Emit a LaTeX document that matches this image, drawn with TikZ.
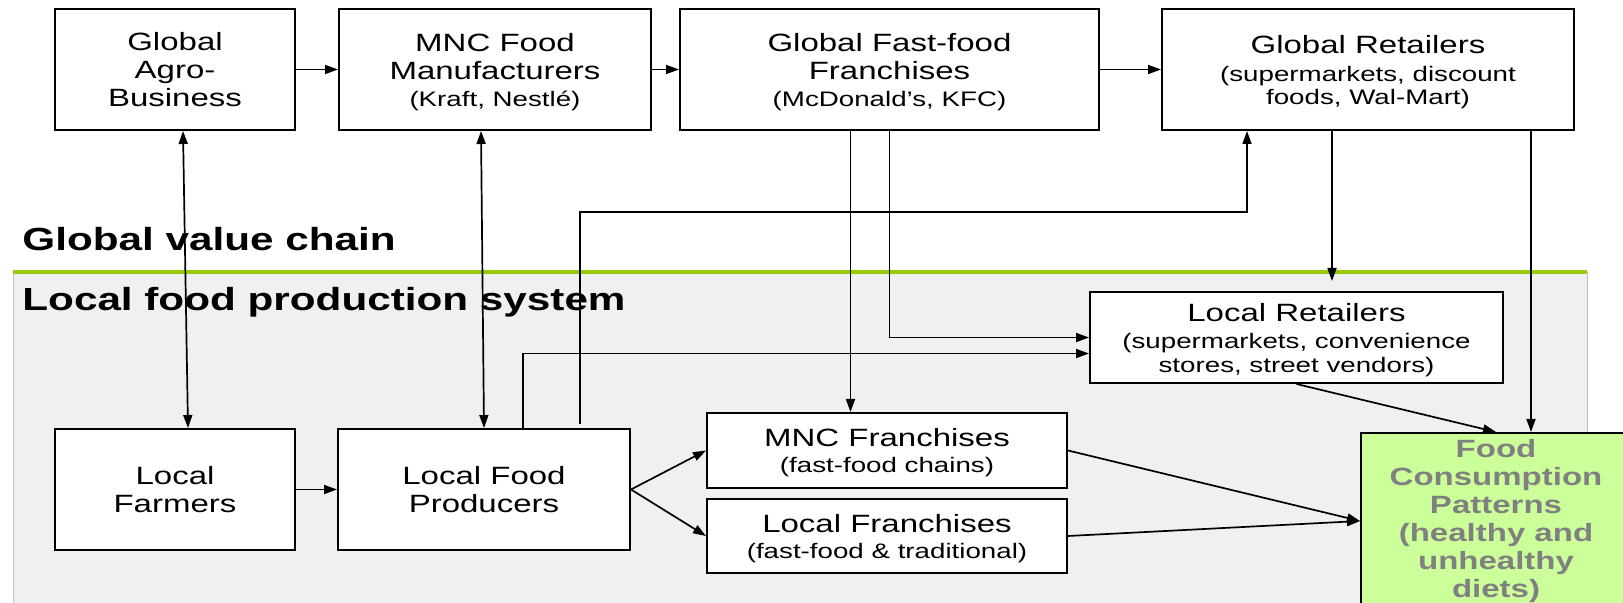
\documentclass[tikz,border=0pt]{standalone}
\usepackage{fontspec}
\setmainfont{Liberation Sans}[FakeStretch=1.32]
\usetikzlibrary{arrows.meta}
\definecolor{chaingreen}{HTML}{99CC00}
\definecolor{dietgreen}{HTML}{CCFF99}
\definecolor{dietgray}{HTML}{808080}
\definecolor{localgray}{HTML}{F0F0F0}
\newcommand{\subtxt}[1]{{\fontsize{10.5}{12}\selectfont #1}}
\tikzset{
	box/.style={draw, line width=1pt, fill=white, align=center, inner sep=0pt, font=\fontsize{12.5}{14}\selectfont},
	subbox/.style={box, text depth=-2pt},
	arr/.style={line width=0.85pt, -{Triangle[length=6.5pt,width=4.5pt]}},
	twoarr/.style={line width=0.85pt, {Triangle[length=6.5pt,width=4.5pt]}-{Triangle[length=6.5pt,width=4.5pt]}},
	heading/.style={anchor=base west, inner sep=0pt, font=\bfseries\fontsize{16}{19}\selectfont}
}
\begin{document}
\begin{tikzpicture}[x=0.5pt, y=-0.5pt]
			\useasboundingbox (0, 0) rectangle (1623, 603);
			\clip (0, 0) rectangle (1623, 603);
			
			\fill[localgray] (13, 272) rectangle (1587, 610);
			\draw[black!25] (13, 272) -- (13, 610);
			\draw[black!25] (1587, 272) -- (1587, 610);
			\draw[chaingreen, line width=2pt] (13, 272) -- (1587, 272);
			
			\node[heading] (gvc) at (22, 251) {Global value chain};
			\node[heading] (lfps) at (22, 311) {Local food production system};
			
			\node[box, minimum width=120pt, minimum height=60.5pt] (agro) at (175, 69.5) {Global\\Agro-\\Business};
			\node[subbox, minimum width=156pt, minimum height=60.5pt] (mncman) at (495, 69.5) {MNC Food\\Manufacturers\\[-0.5pt]\subtxt{(Kraft, Nestlé)}};
			\node[subbox, minimum width=209.5pt, minimum height=60.5pt] (fastfood) at (889.5, 69.5) {Global Fast-food\\Franchises\\[-0.5pt]\subtxt{(McDonald’s, KFC)}};
			\node[subbox, minimum width=206pt, minimum height=60.5pt] (globret) at (1368, 69.5) {Global Retailers\\[0pt]\subtxt{(supermarkets, discount}\\[-2.5pt]\subtxt{foods, Wal-Mart)}};
			
			\node[subbox, minimum width=206.5pt, minimum height=45.5pt] (locret) at (1296.5, 337.5) {Local Retailers\\[-0.5pt]\subtxt{(supermarkets, convenience}\\[-2pt]\subtxt{stores, street vendors)}};
			
			\node[box, text depth=-1pt, minimum width=120pt, minimum height=60.5pt] (farmers) at (175, 489.5) {Local\\Farmers};
			\node[box, text depth=-1pt, minimum width=146pt, minimum height=60.5pt] (producers) at (484, 489.5) {Local Food\\Producers};
			\node[subbox, minimum width=180pt, minimum height=37.5pt] (mncfr) at (887, 450.5) {MNC Franchises\\[-1pt]\subtxt{(fast-food chains)}};
			\node[subbox, minimum width=180pt, minimum height=37pt] (localfr) at (887, 536) {Local Franchises\\[-1pt]\subtxt{(fast-food \& traditional)}};
			
			\node[box, fill=dietgreen, text=dietgray, minimum width=135pt, minimum height=88pt, font=\bfseries\fontsize{12.5}{14}\selectfont] (fcp) at (1496, 521) {Food\\Consumption\\Patterns\\(healthy and\\unhealthy\\diets)};
			
			\coordinate (prodstart) at (580, 424);
			\coordinate (grtip) at (1332, 281);
			
			\draw[arr] (agro.east) -- (mncman.west);
			\draw[arr] (mncman.east) -- (fastfood.west);
			\draw[arr] (fastfood.east) -- (globret.west);
			
			\draw[twoarr] ([xshift=4pt]agro.south) -- ([xshift=6.5pt]farmers.north);
			\draw[twoarr] ([xshift=-7pt]mncman.south) -- (producers.north);
			
			\draw[arr] ([xshift=-19.5pt]fastfood.south) -- ([xshift=-19.5pt]fastfood.south |- mncfr.north);
			\draw[arr] (fastfood.south) |- (locret.west);
			\draw[arr] ([xshift=19.5pt]producers.north) |- ([yshift=-8pt]locret.west);
			\draw[arr] (prodstart) |- ([xshift=-60.5pt,yshift=-40.5pt]globret.south) -- ([xshift=-60.5pt]globret.south);
			\draw[arr] ([xshift=-18pt]globret.south) -- (grtip);
			\draw[arr] ([xshift=81.5pt]globret.south) -- ([xshift=81.5pt]globret.south |- fcp.north);
			
			\draw[arr] (locret.south) -- (fcp.north);
			\draw[arr] (mncfr.east) -- (fcp.west);
			\draw[arr] (localfr.east) -- (fcp.west);
			
			\draw[arr] (farmers.east) -- (producers.west);
			\draw[arr] (producers.east) -- (mncfr.west);
			\draw[arr] (producers.east) -- (localfr.west);
		\end{tikzpicture}
\end{document}
